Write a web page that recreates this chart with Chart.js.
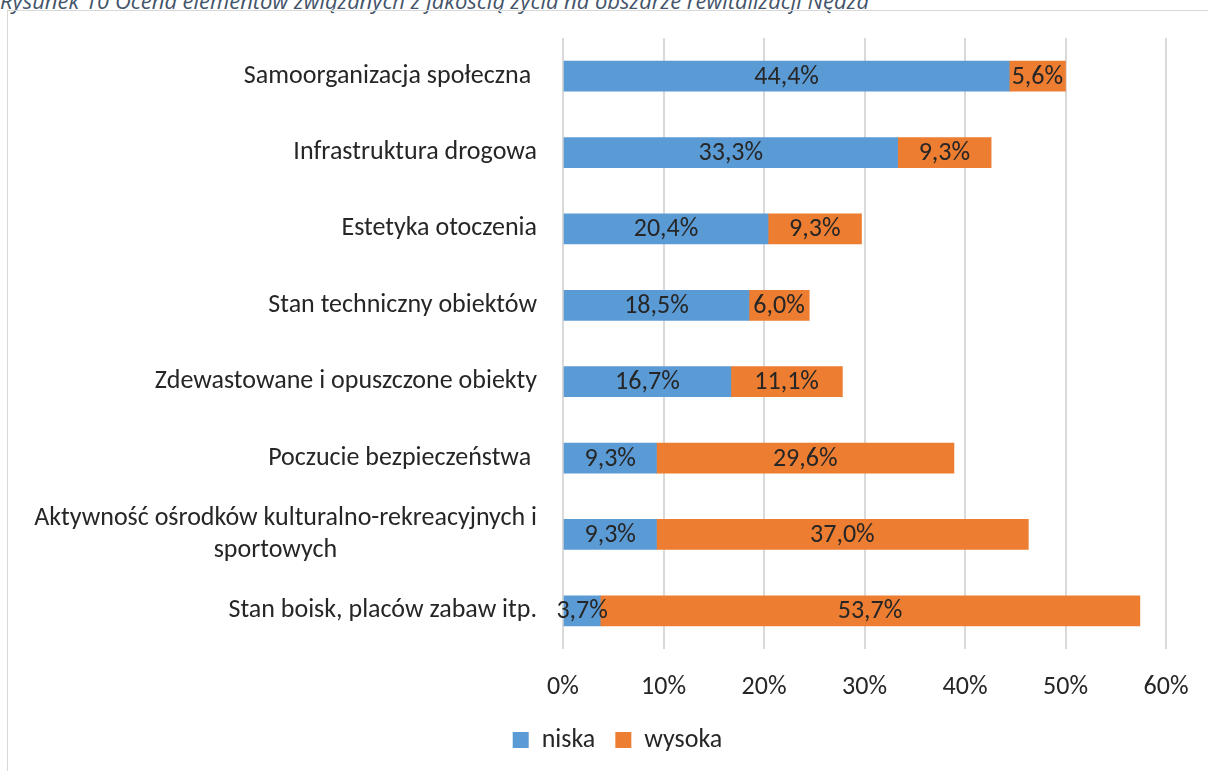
<!DOCTYPE html>
<html>
<head>
<meta charset="utf-8">
<script src="https://cdn.jsdelivr.net/npm/chart.js@4"></script>
<style>
  html, body { margin: 0; padding: 0; width: 1208px; height: 771px; overflow: hidden; background: #fff; }
  #caption {
    position: absolute; left: 0; top: -15px; line-height: 26px;
    font: italic 22px "Open Sans", sans-serif; color: #44546a; white-space: nowrap;
  }
  #frame {
    position: absolute; left: 7px; top: 10px; width: 1240px; height: 800px;
    border: 1px solid #d9d9d9; box-sizing: border-box;
  }
  #wrap { position: absolute; left: 9px; top: 11px; width: 1199px; height: 760px; }
</style>
</head>
<body>
<div id="caption">Rysunek 10 Ocena elementów związanych z jakością życia na obszarze rewitalizacji Nędza</div>
<div id="frame"></div>
<div id="wrap"><canvas id="chart"></canvas></div>
<script>
const categories = [
  "Samoorganizacja społeczna ",
  "Infrastruktura drogowa",
  "Estetyka otoczenia",
  "Stan techniczny obiektów",
  "Zdewastowane i opuszczone obiekty",
  "Poczucie bezpieczeństwa ",
  ["Aktywność ośrodków kulturalno-rekreacyjnych i", "sportowych" + " ".repeat(34)],
  "Stan boisk, placów zabaw itp."
];
const niska = [44.4, 33.3, 20.4, 18.5, 16.7, 9.3, 9.3, 3.7];
const wysoka = [5.6, 9.3, 9.3, 6.0, 11.1, 29.6, 37.0, 53.7];
const xTicks = [0, 10, 20, 30, 40, 50, 60];

const FONT = '"Carlito", "Lato", sans-serif';
const SIZE = 26;
const TEXT = "#262626";

function pct(v) {
  return v.toFixed(1).replace(".", ",") + "%";
}

// draws the value inside each bar segment
const barLabels = {
  id: "barLabels",
  afterDatasetsDraw(chart) {
    const ctx = chart.ctx;
    ctx.save();
    ctx.font = SIZE + "px " + FONT;
    ctx.fillStyle = TEXT;
    ctx.textAlign = "center";
    ctx.textBaseline = "middle";
    chart.data.datasets.forEach((ds, i) => {
      chart.getDatasetMeta(i).data.forEach((bar, j) => {
        const x = (bar.x + bar.base) / 2;
        ctx.fillText(pct(ds.data[j]), x, bar.y + 1);
      });
    });
    ctx.restore();
  },
};

const font = { family: FONT, size: SIZE };

new Chart(document.getElementById("chart"), {
  type: "bar",
  data: {
    labels: categories,
    datasets: [
      { label: "niska", data: niska, backgroundColor: "#5b9bd5" },
      { label: "wysoka", data: wysoka, backgroundColor: "#ed7d31" },
    ],
  },
  options: {
    indexAxis: "y",
    responsive: true,
    maintainAspectRatio: false,
    animation: false,
    barThickness: 30,
    layout: { padding: { top: 27, left: 18, right: 0, bottom: 8 } },
    scales: {
      x: {
        stacked: true,
        min: 0,
        max: 60,
        afterBuildTicks: (scale) => {
          scale.ticks = xTicks.map((v) => ({ value: v }));
        },
        afterFit: (scale) => {
          scale.height = 58;
          scale.paddingLeft = 0;
          scale.paddingRight = 0;
        },
        grid: { color: "#d9d9d9", lineWidth: 2, drawTicks: false },
        border: { display: false },
        ticks: {
          padding: 23,
          color: TEXT,
          font,
          callback: (v) => v + "%",
        },
      },
      y: {
        stacked: true,
        grid: { display: false, drawTicks: false },
        border: { display: false },
        afterFit: (scale) => {
          scale.width = 536;
          scale.paddingTop = 0;
          scale.paddingBottom = 0;
        },
        ticks: {
          padding: 26,
          color: TEXT,
          font,
        },
      },
      // empty right-hand strip so the 60% line sits where it should
      spacer: {
        type: "linear",
        position: "right",
        grid: { display: false, drawTicks: false },
        border: { display: false },
        ticks: { display: false },
        afterFit: (scale) => {
          scale.width = 42;
          scale.paddingTop = 0;
          scale.paddingBottom = 0;
        },
      },
    },
    plugins: {
      legend: {
        position: "bottom",
        labels: {
          color: TEXT,
          font,
          boxWidth: 16,
          boxHeight: 16,
          padding: 20,
        },
      },
      tooltip: { enabled: false },
    },
  },
  plugins: [barLabels],
});
</script>
</body>
</html>
